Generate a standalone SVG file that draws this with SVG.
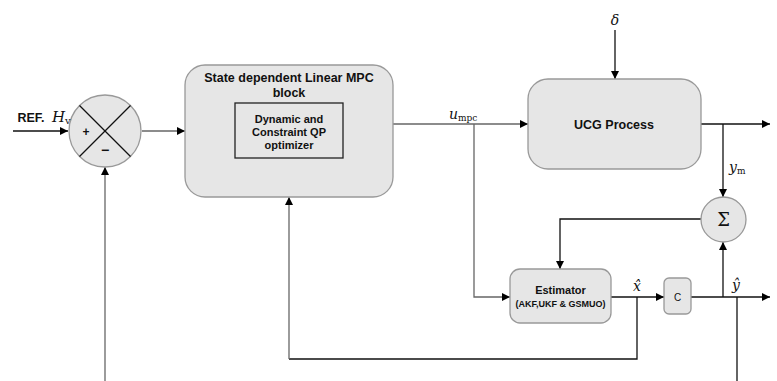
<svg xmlns="http://www.w3.org/2000/svg" width="777" height="381" viewBox="0 0 777 381">
<style>
.blk{fill:#e6e6e6;stroke:#999;stroke-width:1.3}
.ln{fill:none;stroke:#111;stroke-width:1.3}
.lg{fill:none;stroke:#666;stroke-width:1.3}
.t{font-family:"Liberation Sans",Arial,sans-serif;fill:#111;text-anchor:middle}
.b{font-weight:bold}
.m{font-family:"DejaVu Serif","Liberation Serif",serif;fill:#111}
.mi{font-style:italic}
</style>
<defs>
<marker id="ah" viewBox="0 0 10 10" refX="10" refY="5" markerWidth="8" markerHeight="8" markerUnits="userSpaceOnUse" orient="auto">
<path d="M0,0 L10,5 L0,10 Z" fill="#000"/>
</marker>
</defs>
<rect width="777" height="381" fill="#fff"/>
<g id="connectors">
<line class="ln" x1="13" y1="131" x2="68" y2="131" marker-end="url(#ah)"/>
<line class="lg" x1="142" y1="131" x2="185" y2="131" marker-end="url(#ah)"/>
<line class="lg" x1="105" y1="381" x2="105" y2="167" marker-end="url(#ah)"/>
<polyline class="lg" points="393,124 528,124" marker-end="url(#ah)"/>
<polyline class="lg" points="474,124 474,297 510,297" marker-end="url(#ah)"/>
<line class="ln" x1="615" y1="30" x2="615" y2="79" marker-end="url(#ah)"/>
<line class="ln" x1="701" y1="124" x2="770" y2="124" marker-end="url(#ah)"/>
<line class="ln" x1="723" y1="124" x2="723" y2="197" marker-end="url(#ah)"/>
<polyline class="ln" points="701,219 560,219 560,269" marker-end="url(#ah)"/>
<line class="ln" x1="611" y1="297" x2="664" y2="297" marker-end="url(#ah)"/>
<line class="ln" x1="691" y1="297" x2="770" y2="297" marker-end="url(#ah)"/>
<line class="ln" x1="723" y1="297" x2="723" y2="242" marker-end="url(#ah)"/>
<line class="ln" x1="737" y1="297" x2="737" y2="381"/>
<polyline class="ln" points="637,297 637,359 289,359"/>
<line class="lg" x1="289" y1="359" x2="289" y2="197" marker-end="url(#ah)"/>
</g>
<g id="sum1">
<circle class="blk" cx="105" cy="131" r="36"/>
<line class="ln" x1="79.5" y1="105.5" x2="130.5" y2="156.5"/>
<line class="ln" x1="130.5" y1="105.5" x2="79.5" y2="156.5"/>
<text class="t b" x="86" y="136" font-size="12">+</text>
<text class="t b" x="105" y="155" font-size="14">−</text>
</g>
<g id="ref-label">
<text class="t b" x="31" y="122" font-size="12.5">REF.</text>
<text class="m" x="52" y="122" font-size="15"><tspan class="mi">H</tspan><tspan font-size="10" dy="2">v</tspan></text>
</g>
<g id="mpc">
<rect class="blk" x="185" y="65" width="208" height="132" rx="20"/>
<text class="t b" x="289" y="82" font-size="12.5">State dependent Linear MPC</text>
<text class="t b" x="289" y="97" font-size="12.5">block</text>
</g>
<g id="qp">
<rect x="235" y="103" width="108" height="55" fill="none" stroke="#222" stroke-width="1.3"/>
<text class="t b" x="289" y="123" font-size="11">Dynamic and</text>
<text class="t b" x="289" y="136" font-size="11">Constraint QP</text>
<text class="t b" x="289" y="149" font-size="11">optimizer</text>
</g>
<g id="umpc-label">
<text class="m" x="449" y="119" font-size="14"><tspan class="mi">u</tspan><tspan font-size="9" dy="2">mpc</tspan></text>
</g>
<g id="ucg">
<rect class="blk" x="528" y="79" width="173" height="90" rx="20"/>
<text class="t b" x="614" y="129" font-size="12.5">UCG Process</text>
</g>
<g id="delta-label">
<text class="m mi" x="615" y="25" font-size="14" text-anchor="middle">δ</text>
</g>
<g id="ym-label">
<text class="m" x="729" y="172" font-size="14"><tspan class="mi">y</tspan><tspan font-size="9" dy="2">m</tspan></text>
</g>
<g id="sigma">
<circle class="blk" cx="723.5" cy="219.5" r="22.5"/>
<text class="m" x="723.5" y="226" font-size="18" text-anchor="middle">Σ</text>
</g>
<g id="estimator">
<rect class="blk" x="510" y="269" width="101" height="54" rx="10"/>
<text class="t b" x="560.5" y="294" font-size="11">Estimator</text>
<text class="t b" x="560.5" y="307" font-size="9">(AKF,UKF &amp; GSMUO)</text>
</g>
<g id="xhat-label">
<text class="m mi" x="637" y="291" font-size="14" text-anchor="middle">x̂</text>
</g>
<g id="c">
<rect class="blk" x="664" y="278" width="27" height="36" rx="5"/>
<text class="t" x="677.5" y="301" font-size="10">C</text>
</g>
<g id="yhat-label">
<text class="m mi" x="736" y="290" font-size="14" text-anchor="middle">ŷ</text>
</g>
</svg>
